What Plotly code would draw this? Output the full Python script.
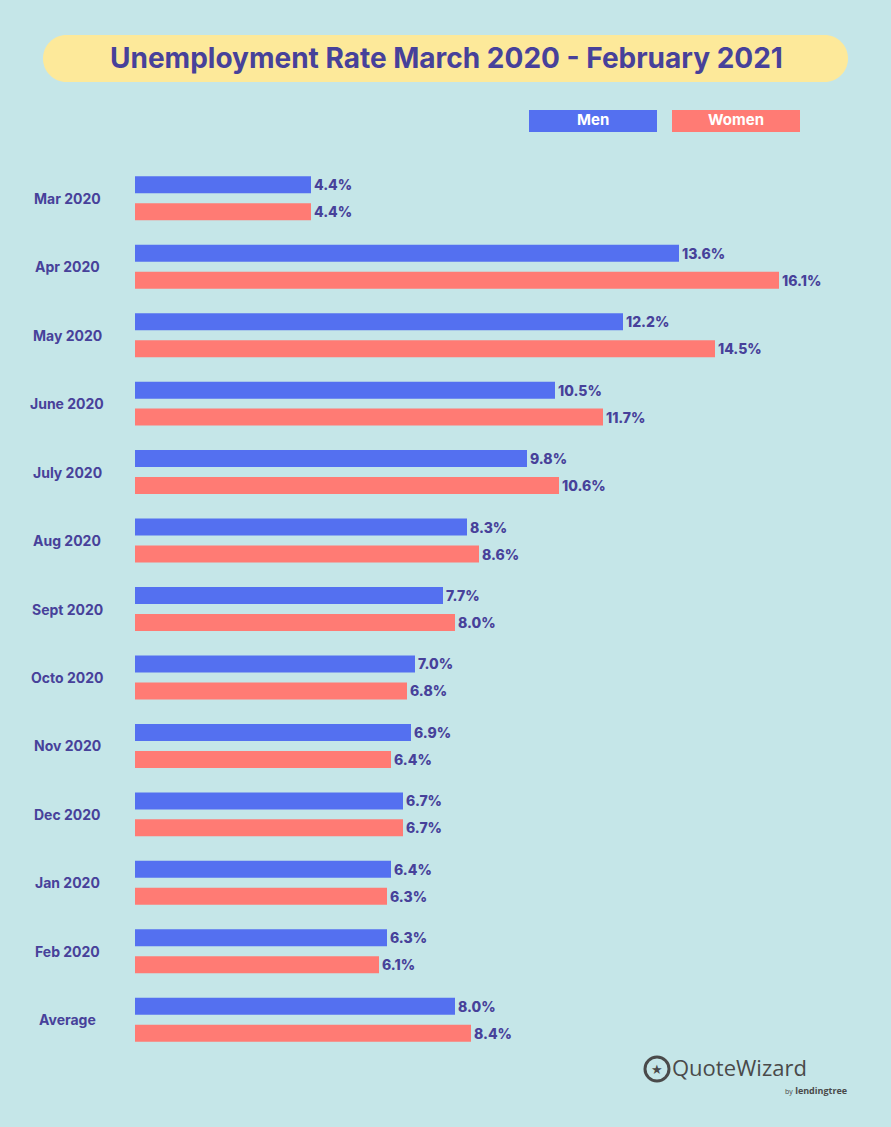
import plotly.graph_objects as go

months = ["Mar 2020", "Apr 2020", "May 2020", "June 2020", "July 2020", "Aug 2020",
          "Sept 2020", "Octo 2020", "Nov 2020", "Dec 2020", "Jan 2020", "Feb 2020", "Average"]
men = [4.4, 13.6, 12.2, 10.5, 9.8, 8.3, 7.7, 7.0, 6.9, 6.7, 6.4, 6.3, 8.0]
women = [4.4, 16.1, 14.5, 11.7, 10.6, 8.6, 8.0, 6.8, 6.4, 6.7, 6.3, 6.1, 8.4]
title_text = "Unemployment Rate March 2020 - February 2021"

BG = "#c5e6e8"
BLUE = "#5470f0"
SALMON = "#ff7b74"
NAVY = "#47419a"
FONT = "Inter"

W, H = 891, 1127
L, R, T, B = 135, 50, 164, 73
PW, PH = W - L - R, H - T - B

def px(x):
    return (x - L) / PW

def py(y):
    return 1 - (y - T) / PH

fig = go.Figure()
fig.add_trace(go.Bar(
    y=months, x=men, orientation="h", name="Men", marker=dict(color=BLUE, line=dict(width=0)),
    text=[f"{v:.1f}%" for v in men], textposition="outside", cliponaxis=False,
    textfont=dict(family=FONT, size=14, color=NAVY, weight=800),
))
fig.add_trace(go.Bar(
    y=months, x=women, orientation="h", name="Women", marker=dict(color=SALMON, line=dict(width=0)),
    text=[f"{v:.1f}%" for v in women], textposition="outside", cliponaxis=False,
    textfont=dict(family=FONT, size=14, color=NAVY, weight=800),
))

shapes = []
annotations = []

# title pill
x0, x1, y0, y1 = 43, 848, 35, 82
r = (y1 - y0) / 2
k = 0.5523 * r
path = (f"M {px(x0 + r)},{py(y0)} L {px(x1 - r)},{py(y0)} "
        f"C {px(x1 - r + k)},{py(y0)} {px(x1)},{py(y0 + r - k)} {px(x1)},{py(y0 + r)} "
        f"C {px(x1)},{py(y0 + r + k)} {px(x1 - r + k)},{py(y1)} {px(x1 - r)},{py(y1)} "
        f"L {px(x0 + r)},{py(y1)} "
        f"C {px(x0 + r - k)},{py(y1)} {px(x0)},{py(y0 + r + k)} {px(x0)},{py(y0 + r)} "
        f"C {px(x0)},{py(y0 + r - k)} {px(x0 + r - k)},{py(y0)} {px(x0 + r)},{py(y0)} Z")
shapes.append(dict(type="path", xref="paper", yref="paper", path=path,
                   fillcolor="#fde99a", line=dict(width=0), layer="below"))
annotations.append(dict(xref="paper", yref="paper", x=px(446), y=py(58), text=f"<b>{title_text}</b>",
                        showarrow=False, font=dict(family=FONT, size=28, color=NAVY, weight=800),
                        xanchor="center", yanchor="middle"))

# legend boxes
for (lx0, lx1, col, name) in [(529, 657, BLUE, "Men"), (672, 800, SALMON, "Women")]:
    shapes.append(dict(type="rect", xref="paper", yref="paper", x0=px(lx0), x1=px(lx1),
                       y0=py(132), y1=py(110), fillcolor=col, line=dict(width=0)))
    annotations.append(dict(xref="paper", yref="paper", x=px((lx0 + lx1) / 2), y=py(120),
                            text=f"<b>{name}</b>", showarrow=False,
                            font=dict(family=FONT, size=15, color="white", weight=800),
                            xanchor="center", yanchor="middle"))

# category labels
for m in months:
    annotations.append(dict(xref="paper", yref="y", x=px(67), y=m, text=f"<b>{m}</b>",
                            showarrow=False, font=dict(family=FONT, size=14, color=NAVY, weight=800),
                            xanchor="center", yanchor="middle"))

# logo
shapes.append(dict(type="circle", xref="paper", yref="paper", x0=px(645), x1=px(669),
                   y0=py(1081), y1=py(1057), line=dict(color="#4a4a4a", width=3)))
annotations.append(dict(xref="paper", yref="paper", x=px(657), y=py(1069), text="★",
                        showarrow=False, font=dict(family="DejaVu Sans", size=13, color="#4a4a4a"),
                        xanchor="center", yanchor="middle"))
annotations.append(dict(xref="paper", yref="paper", x=px(670), y=py(1067), text="QuoteWizard",
                        showarrow=False, font=dict(family="Open Sans", size=22, color="#4a4a4a", weight=500),
                        xanchor="left", yanchor="middle"))
annotations.append(dict(xref="paper", yref="paper", x=px(849), y=py(1090),
                        text="<span style='font-size:7px'>by</span> <b>lendingtree</b>",
                        showarrow=False, font=dict(family="Open Sans", size=9, color="#4a4a4a"),
                        xanchor="right", yanchor="middle"))

fig.update_layout(
    width=W, height=H,
    margin=dict(l=L, r=R, t=T, b=B, pad=0),
    paper_bgcolor=BG, plot_bgcolor=BG,
    barmode="group", bargap=0.212, bargroupgap=0.37,
    showlegend=False,
    xaxis=dict(range=[0, PW / 40.0], visible=False, fixedrange=True),
    yaxis=dict(categoryorder="array", categoryarray=months, autorange="reversed",
               showticklabels=False, showgrid=False, zeroline=False, showline=False, ticks=""),
    shapes=shapes, annotations=annotations,
    font=dict(family=FONT, color=NAVY),
)

fig.write_html("out.html", config={"displayModeBar": False},
               post_script="document.body.style.margin='0';document.body.style.background='" + BG + "';")
